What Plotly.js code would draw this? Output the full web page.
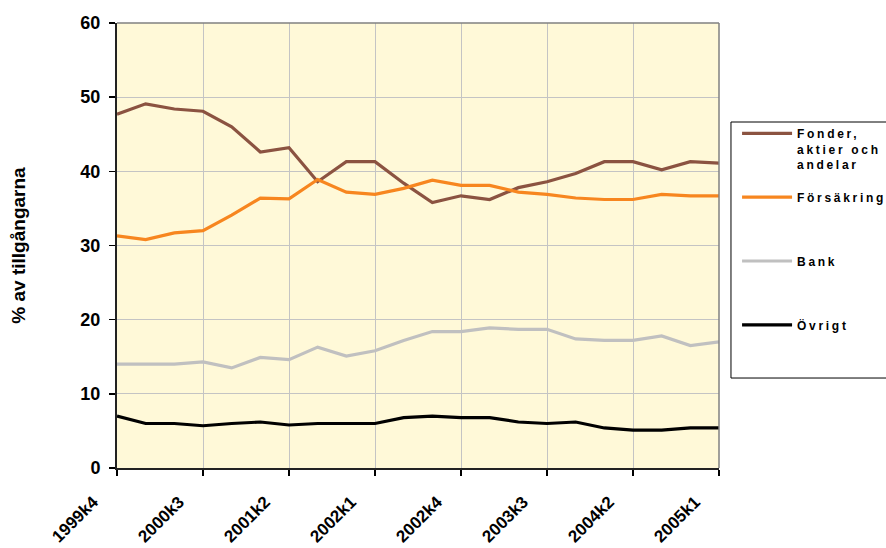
<!DOCTYPE html>
<html>
<head>
<meta charset="utf-8">
<script src="https://cdn.plot.ly/plotly-3.0.1.min.js"></script>
<style>
  html, body { margin: 0; padding: 0; background: #fff; }
  #chart { width: 886px; height: 548px; }
  .legendtext { letter-spacing: 2.7px; }
</style>
</head>
<body>
<div id="chart"></div>
<script>
// Quarters 1999k4 .. 2005k1
const quarters = ["1999k4",
  "2000k1","2000k2","2000k3","2000k4",
  "2001k1","2001k2","2001k3","2001k4",
  "2002k1","2002k2","2002k3","2002k4",
  "2003k1","2003k2","2003k3","2003k4",
  "2004k1","2004k2","2004k3","2004k4",
  "2005k1"];
const tickLabels = ["1999k4","2000k3","2001k2","2002k1","2002k4","2003k3","2004k2","2005k1"];

const fonder     = [47.7,49.1,48.4,48.1,46.0,42.6,43.2,38.6,41.3,41.3,38.4,35.8,36.7,36.2,37.8,38.6,39.7,41.3,41.3,40.2,41.3,41.1];
const forsakring = [31.3,30.8,31.7,32.0,34.1,36.4,36.3,38.9,37.2,36.9,37.7,38.8,38.1,38.1,37.2,36.9,36.4,36.2,36.2,36.9,36.7,36.7];
const bank       = [14.0,14.0,14.0,14.3,13.5,14.9,14.6,16.3,15.1,15.8,17.2,18.4,18.4,18.9,18.7,18.7,17.4,17.2,17.2,17.8,16.5,17.0];
const ovrigt     = [7.0,6.0,6.0,5.7,6.0,6.2,5.8,6.0,6.0,6.0,6.8,7.0,6.8,6.8,6.2,6.0,6.2,5.4,5.1,5.1,5.4,5.4];

const seriesNames = ["Fonder,<br>aktier och<br>andelar", "Försäkring<br> <br> ", "Bank<br> <br> ", "Övrigt<br> <br> "];
const seriesColors = ["#8B5341", "#F7861F", "#C0C0C0", "#000000"];
const seriesData = [fonder, forsakring, bank, ovrigt];

const FONT = "'Liberation Sans', Arial, sans-serif";

const traces = seriesData.map((vals, i) => ({
  type: "scatter",
  mode: "lines",
  x: quarters,
  y: vals,
  name: seriesNames[i],
  legendgroup: "g" + i,
  line: { color: seriesColors[i], width: 3.2 },
  hoverinfo: "skip"
}));

// Rotated category labels placed at the category ticks
const tickAnnotations = tickLabels.map(lbl => ({
  x: lbl, xref: "x", y: 0, yref: "paper",
  text: lbl, showarrow: false, textangle: -45,
  xanchor: "right", yanchor: "top",
  xshift: -12, yshift: -22,
  font: { family: FONT, size: 17, color: "#000", weight: "bold" }
}));

const layout = {
  width: 886,
  height: 548,
  margin: { l: 117, r: 167, t: 23, b: 80, autoexpand: false },
  paper_bgcolor: "#ffffff",
  plot_bgcolor: "#FFF9D8",
  showlegend: true,
  legend: {
    x: 1.03, y: 0.784, xanchor: "left", yanchor: "top",
    bgcolor: "rgba(255,255,255,0)",
    borderwidth: 0,
    font: { family: FONT, size: 12, color: "#000", weight: "bold" },
    valign: "top",
    traceorder: "grouped",
    tracegroupgap: 14,
    itemwidth: 50,
    itemclick: false, itemdoubleclick: false
  },
  xaxis: {
    type: "category",
    range: [0, quarters.length - 1],
    tickmode: "array",
    tickvals: tickLabels,
    ticktext: tickLabels,
    showticklabels: false,
    ticks: "outside", ticklen: 6, tickcolor: "#000", tickwidth: 1.5,
    showgrid: true, gridcolor: "#C4C4C4", gridwidth: 1,
    showline: true, linecolor: "#222", linewidth: 2,
    zeroline: false, fixedrange: true
  },
  yaxis: {
    range: [0, 60],
    tickmode: "linear", tick0: 0, dtick: 10,
    ticks: "outside", ticklen: 6, tickcolor: "#000", tickwidth: 1.5,
    ticklabelstandoff: 5,
    showgrid: true, gridcolor: "#C4C4C4", gridwidth: 1,
    showline: true, linecolor: "#222", linewidth: 2,
    tickfont: { family: FONT, size: 18, color: "#000", weight: "bold" },
    title: { text: "% av tillgångarna", font: { family: FONT, size: 19, color: "#000", weight: "bold" }, standoff: 50 },
    zeroline: false, fixedrange: true
  },
  annotations: tickAnnotations,
  shapes: [
    { type: "line", xref: "paper", yref: "paper", x0: 0, x1: 1, y0: 1, y1: 1, line: { color: "#808080", width: 1.5 } },
    { type: "line", xref: "paper", yref: "paper", x0: 1, x1: 1, y0: 0, y1: 1, line: { color: "#808080", width: 1.5 } },
    { type: "rect", xref: "paper", yref: "paper", x0: 1.0199, x1: 1.3, y0: 0.2022, y1: 0.7775, line: { color: "#000000", width: 1 }, fillcolor: "rgba(0,0,0,0)" }
  ]
};

Plotly.newPlot("chart", traces, layout, { displayModeBar: false, staticPlot: true });
</script>
</body>
</html>
